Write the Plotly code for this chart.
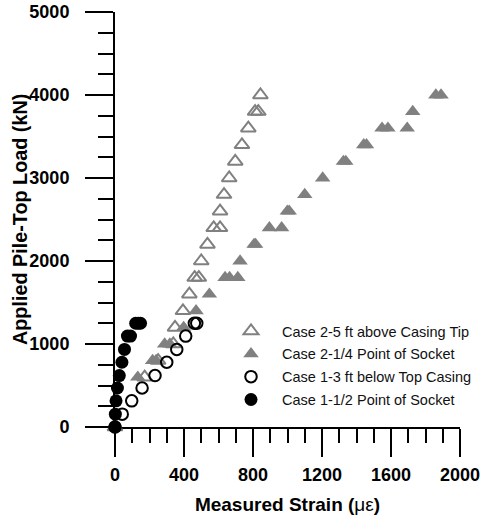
import plotly.graph_objects as go

# ---------------- data ----------------
case2_open_load = [0, 600, 800, 1000, 1200, 1400, 1600, 1800, 1800, 2000, 2200,
                   2400, 2400, 2600, 2800, 3000, 3200, 3400, 3600, 3800, 3800, 4000]
case2_open_strain = [0, 172, 250, 338, 348, 394, 431, 462, 486, 500, 536,
                     572, 609, 609, 632, 662, 697, 736, 773, 812, 831, 843]

case2_fill_load = [0, 600, 800, 800, 1000, 1000, 1200, 1400, 1600, 1800, 1800, 1800,
                   2000, 2200, 2200, 2400, 2400, 2600, 2600, 2800, 3000, 3200, 3200,
                   3400, 3400, 3600, 3600, 3600, 3800, 4000, 4000]
case2_fill_strain = [0, 132, 218, 238, 288, 318, 398, 470, 547, 638, 664, 712,
                     725, 806, 815, 895, 966, 999, 1010, 1100, 1204, 1324, 1338,
                     1442, 1458, 1548, 1582, 1694, 1726, 1860, 1890]

case1_open_load = [0, 155, 315, 470, 620, 780, 935, 1095, 1250, 1250]
case1_open_strain = [0, 42, 97, 157, 232, 300, 358, 410, 460, 474]

case1_fill_load = [0, 155, 315, 470, 620, 780, 935, 1095, 1095, 1250, 1250, 1250]
case1_fill_strain = [0, 2, 6, 14, 25, 40, 55, 72, 90, 120, 135, 148]

names = ["Case 2-5 ft above Casing Tip", "Case 2-1/4 Point of Socket",
         "Case 1-3 ft below Top Casing", "Case 1-1/2 Point of Socket"]

x_ticks = [0, 400, 800, 1200, 1600, 2000]
y_ticks = [0, 1000, 2000, 3000, 4000, 5000]

x_title = "Measured Strain (<span style='font-weight:normal'>\u03bc\u03b5</span>)"
y_title = "Applied Pile-Top Load (kN)"

GRAY = "#808080"
FONT = "Liberation Sans, Arial, Helvetica, sans-serif"

fig = go.Figure()
fig.add_trace(go.Scatter(x=case2_open_strain, y=case2_open_load, mode="markers", name=names[0],
                         legendgroup="a",
                         marker=dict(symbol="triangle-up-open", size=13, color=GRAY,
                                     line=dict(width=2, color=GRAY)), cliponaxis=False))
fig.add_trace(go.Scatter(x=case2_fill_strain, y=case2_fill_load, mode="markers", name=names[1],
                         legendgroup="b",
                         marker=dict(symbol="triangle-up", size=13.5, color=GRAY,
                                     line=dict(width=0)), cliponaxis=False))
fig.add_trace(go.Scatter(x=case1_open_strain, y=case1_open_load, mode="markers", name=names[2],
                         legendgroup="c",
                         marker=dict(symbol="circle-open", size=11.5, color="black",
                                     line=dict(width=2, color="black")), cliponaxis=False))
fig.add_trace(go.Scatter(x=case1_fill_strain, y=case1_fill_load, mode="markers", name=names[3],
                         legendgroup="d",
                         marker=dict(symbol="circle", size=13, color="black",
                                     line=dict(width=0)), cliponaxis=False))

axis_common = dict(showline=True, linecolor="black", linewidth=2, ticks="outside",
                   tickcolor="black", tickwidth=2, showgrid=False, zeroline=False,
                   layer="below traces", ticklen=28,
                   tickfont=dict(family=FONT, size=18, color="black", weight="bold"))

fig.update_xaxes(range=[0, 2000], tickvals=x_ticks, ticktext=[str(v) for v in x_ticks],
                 minor=dict(ticks="outside", dtick=100, tick0=0, ticklen=14, tickwidth=2,
                            tickcolor="black", showgrid=False),
                 ticklabelstandoff=2,
                 title=dict(text=x_title, standoff=14,
                            font=dict(family=FONT, size=19, color="black", weight="bold")),
                 **axis_common)
fig.update_yaxes(range=[0, 5000], tickvals=y_ticks, ticktext=[str(v) for v in y_ticks],
                 minor=dict(ticks="outside", dtick=250, tick0=0, ticklen=15, tickwidth=2,
                            tickcolor="black", showgrid=False),
                 ticklabelstandoff=12,
                 **axis_common)

fig.add_annotation(text=y_title, xref="paper", yref="paper",
                   x=(20 - 115) / 345, y=(427 - 220) / 415, xanchor="center", yanchor="middle",
                   textangle=-90, showarrow=False,
                   font=dict(family=FONT, size=19.8, color="black", weight="bold"))

fig.update_layout(
    width=481, height=515,
    margin=dict(l=115, r=21, t=12, b=88, autoexpand=False),
    plot_bgcolor="white", paper_bgcolor="white",
    showlegend=True,
    legend=dict(x=(220 - 115) / 345, y=(427 - 315) / 415, xanchor="left", yanchor="top",
                bgcolor="rgba(0,0,0,0)", itemwidth=52, tracegroupgap=1,
                traceorder="grouped",
                font=dict(family=FONT, size=14.5, color="#111")),
)

fig.write_html("out.html", config={"displayModeBar": False},
               post_script="document.body.style.margin='0';document.body.style.padding='0';")
